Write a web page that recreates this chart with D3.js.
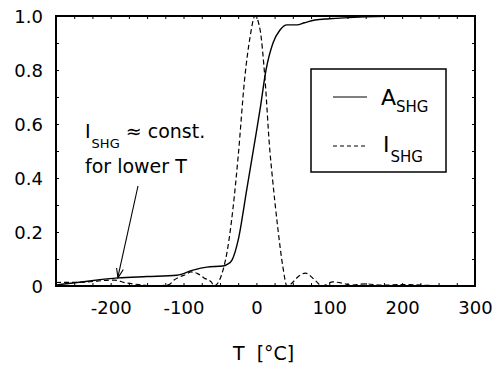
<!DOCTYPE html>
<meta charset="utf-8">
<script src="https://cdnjs.cloudflare.com/ajax/libs/d3/7.8.5/d3.min.js"></script>
<style>
 body { margin: 0; background: #fff; }
 text { font-family: "DejaVu Sans", Arial, sans-serif; fill: #000; }
</style>
<div id="chart"></div>
<script>
 // temperature (deg C) and normalised values
 var aTemp = [-274, -240, -190, -150, -109, -87, -68, -46, -40, -33.5, -25, -13.3, -1.9, 4.9, 13.2, 22.8, 32.4, 42, 55.7, 66, 80.4, 100, 150, 200, 220];
 var aShg  = [0.004, 0.015, 0.03, 0.035, 0.04, 0.059, 0.07, 0.074, 0.08, 0.096, 0.17, 0.356, 0.54, 0.652, 0.8, 0.9, 0.948, 0.967, 0.967, 0.975, 0.985, 0.99, 0.997, 1.0, 1.0];

 var iTemp = [-275, -240, -195, -180, -157, -140, -120, -113, -95, -90, -80, -72, -62, -58, -48, -40, -32, -25, -16, -8.8, -1.9, 5, 11.7, 18.5, 21.3, 29.6, 36.4, 42, 60, 67, 81, 90, 105, 119, 130, 150, 170, 200, 240, 270];
 var iShg  = [0.013, 0.014, 0.022, 0.012, 0.004, 0.0, 0.005, 0.022, 0.045, 0.052, 0.045, 0.03, 0.015, 0.0, 0.04, 0.13, 0.29, 0.48, 0.77, 0.92, 1.0, 0.95, 0.77, 0.5, 0.42, 0.21, 0.07, 0.0, 0.04, 0.048, 0.02, 0.0, 0.015, 0.01, 0.003, 0.008, 0.003, 0.005, 0.002, 0.0];

 var xLabels = [-200, -100, 0, 100, 200, 300];
 var yLabels = [0, 0.2, 0.4, 0.6, 0.8, 1.0];

 var width = 502, height = 370;
 var margin = {top: 16, right: 27, bottom: 84, left: 56};
 var w = width - margin.left - margin.right,
     h = height - margin.top - margin.bottom;

 var svg = d3.select("#chart").append("svg")
     .attr("width", width)
     .attr("height", height);

 var g = svg.append("g")
     .attr("transform", `translate(${margin.left},${margin.top})`);

 var x = d3.scaleLinear().domain([-275, 300]).range([0, w]);
 var y = d3.scaleLinear().domain([0, 1]).range([h, 0]);

 // small inward ticks on all four sides
 var xMinor = d3.range(-275, 301, 25);
 var yMinor = d3.range(0, 1.001, 0.1);
 function tickAxis(axis, sel) {
     sel.call(axis);
     sel.select(".domain").remove();
     sel.selectAll("line").attr("stroke-width", 1);
 }
 g.append("g").attr("transform", `translate(0,${h})`)
  .call(s => tickAxis(d3.axisBottom(x).tickValues(xMinor).tickSize(-3).tickFormat(""), s));
 g.append("g")
  .call(s => tickAxis(d3.axisTop(x).tickValues(xMinor).tickSize(-3).tickFormat(""), s));
 g.append("g")
  .call(s => tickAxis(d3.axisLeft(y).tickValues(yMinor).tickSize(-3).tickFormat(""), s));
 g.append("g").attr("transform", `translate(${w},0)`)
  .call(s => tickAxis(d3.axisRight(y).tickValues(yMinor).tickSize(-3).tickFormat(""), s));

 // tick labels (plain hyphen for negatives, as in the figure)
 var xl = g.append("g").attr("transform", `translate(0,${h})`)
     .call(d3.axisBottom(x).tickValues(xLabels).tickSize(0).tickPadding(15).tickFormat(d => String(d)));
 xl.select(".domain").remove();
 xl.selectAll("text").attr("font-size", 18).style("font-family", "DejaVu Sans, sans-serif");

 var yl = g.append("g")
     .call(d3.axisLeft(y).tickValues(yLabels).tickSize(0).tickPadding(13)
           .tickFormat(d => d === 0 ? "0" : d3.format(".1f")(d)));
 yl.select(".domain").remove();
 yl.selectAll("text").attr("font-size", 18).attr("dy", "0.36em").style("font-family", "DejaVu Sans, sans-serif");

 // frame
 g.append("rect")
  .attr("width", w).attr("height", h)
  .attr("fill", "none").attr("stroke", "#000").attr("stroke-width", 2);

 var line = d3.line().curve(d3.curveMonotoneX)
     .x(d => x(d[0])).y(d => y(d[1]));

 g.append("path")
  .datum(d3.zip(iTemp, iShg))
  .attr("d", line)
  .attr("fill", "none").attr("stroke", "#000").attr("stroke-width", 1.2)
  .attr("stroke-dasharray", "5,3");

 g.append("path")
  .datum(d3.zip(aTemp, aShg))
  .attr("d", line)
  .attr("fill", "none").attr("stroke", "#000").attr("stroke-width", 1.4);

 // legend
 var leg = svg.append("g");
 leg.append("rect")
    .attr("x", 311).attr("y", 69).attr("width", 135).attr("height", 103)
    .attr("fill", "#fff").attr("stroke", "#000").attr("stroke-width", 1.5);
 leg.append("line").attr("x1", 333).attr("x2", 367).attr("y1", 97).attr("y2", 97)
    .attr("stroke", "#000").attr("stroke-width", 1.2);
 leg.append("line").attr("x1", 333).attr("x2", 367).attr("y1", 146).attr("y2", 146)
    .attr("stroke", "#000").attr("stroke-width", 1.2).attr("stroke-dasharray", "4,3");
 var t1 = leg.append("text").attr("x", 381).attr("y", 105).attr("font-size", 22);
 t1.append("tspan").text("A");
 t1.append("tspan").attr("font-size", 15).attr("dy", 7).text("SHG");
 var t2 = leg.append("text").attr("x", 383).attr("y", 152).attr("font-size", 22);
 t2.append("tspan").text("I");
 t2.append("tspan").attr("font-size", 15).attr("dy", 10).attr("dx", 1).text("SHG");

 // annotation with arrow
 var a1 = svg.append("text").attr("x", 85).attr("y", 138).attr("font-size", 19);
 a1.append("tspan").text("I");
 a1.append("tspan").attr("font-size", 13).attr("dy", 10).attr("dx", 1).text("SHG");
 a1.append("tspan").attr("dy", -10).text(" \u2248 const.");
 svg.append("text").attr("x", 85).attr("y", 173).attr("font-size", 19).text("for lower T");

 var tip = [x(-190) + margin.left, y(0.03) + margin.top];
 var start = [138, 186];
 svg.append("line")
    .attr("x1", start[0]).attr("y1", start[1]).attr("x2", tip[0]).attr("y2", tip[1] - 1)
    .attr("stroke", "#000").attr("stroke-width", 1.1);
 var ang = Math.atan2(tip[1] - start[1], tip[0] - start[0]);
 var hl = 10, hw = 0.35;
 svg.append("path")
    .attr("d", `M${tip[0] - hl * Math.cos(ang - hw)},${tip[1] - hl * Math.sin(ang - hw)}L${tip[0]},${tip[1]}L${tip[0] - hl * Math.cos(ang + hw)},${tip[1] - hl * Math.sin(ang + hw)}`)
    .attr("fill", "none").attr("stroke", "#000").attr("stroke-width", 1.1);

 // axis title
 svg.append("text").attr("x", 233).attr("y", 360).attr("font-size", 19)
    .attr("xml:space", "preserve").text("T  [\u00b0C]");
</script>
